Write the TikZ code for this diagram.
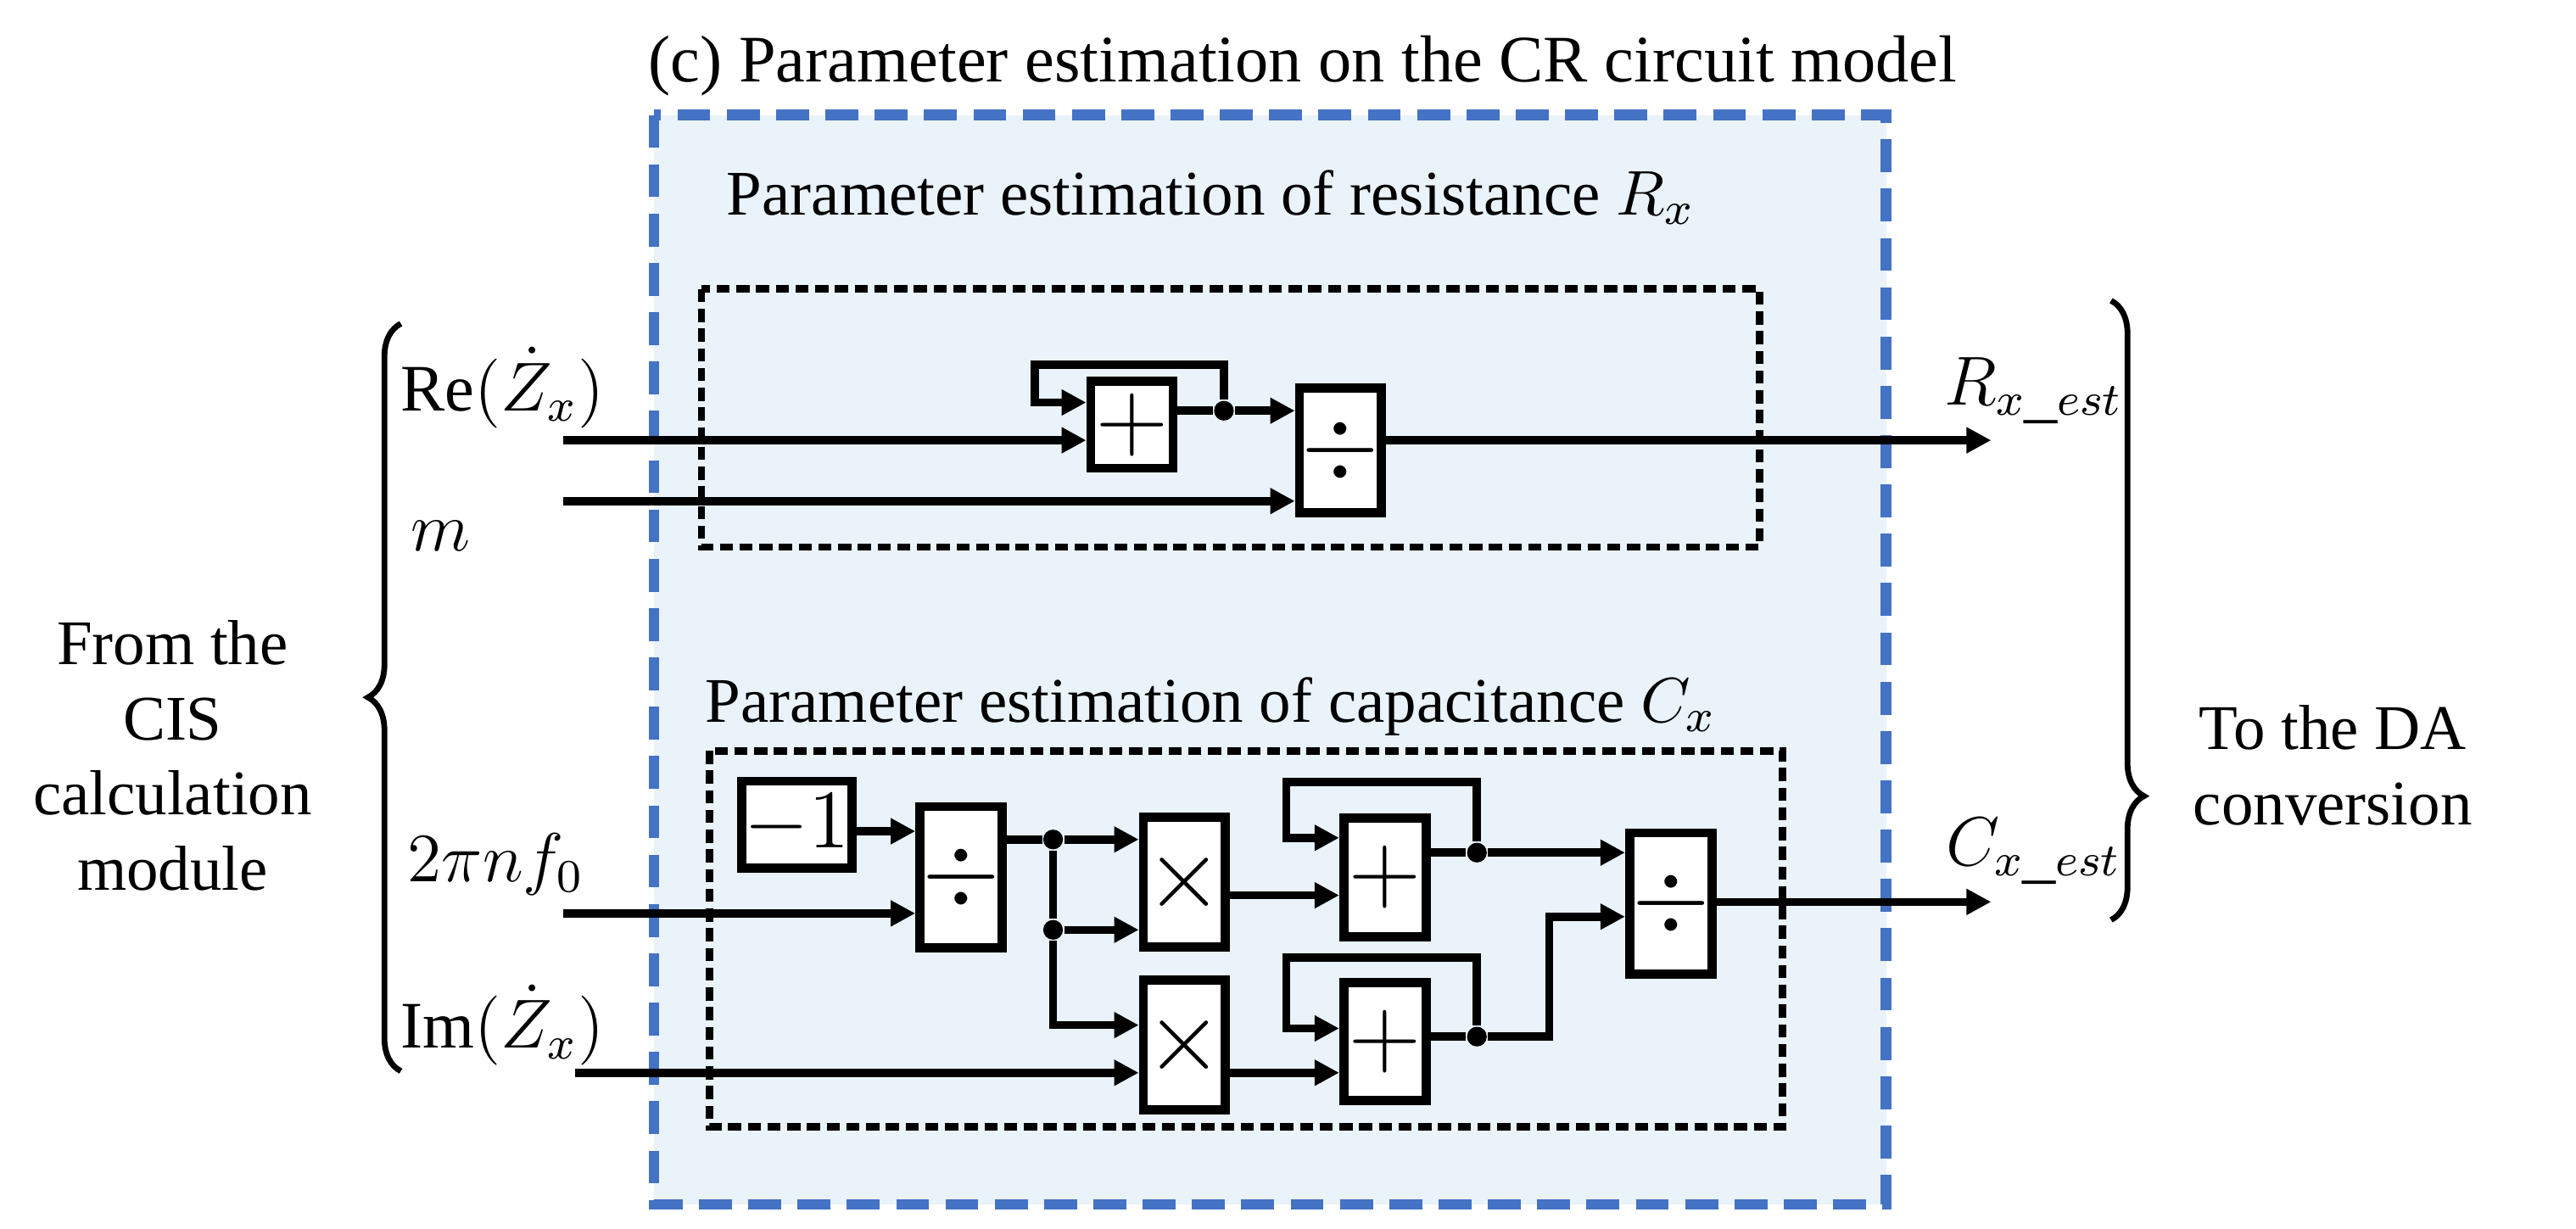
\documentclass[tikz,border=0pt]{standalone}
\usepackage{fontspec}
\setmainfont{Liberation Serif}
\usetikzlibrary{arrows.meta,decorations.pathreplacing}

\definecolor{dashblue}{RGB}{68,114,196}
\definecolor{paleblue}{RGB}{234,243,250}

\tikzset{
  blk/.style={draw, line width=1.6pt, fill=white, minimum width=0.5cm, inner sep=0pt},
  sig/.style={line width=1.4pt, -{Triangle[width=0.15cm,length=0.15cm]}},
  wire/.style={line width=1.4pt},
  dot/.style={circle, fill, inner sep=0pt, minimum size=0.12cm},
  txt/.style={font=\fontsize{11}{13}\selectfont, align=center},
  lbl/.style={font=\fontsize{11.5}{13}\selectfont, inner sep=1pt}
}

\begin{document}
\begin{tikzpicture}[x=0.01cm, y=-0.01cm]

\useasboundingbox (0,0) rectangle (1568,748);

% Title
\node[txt, font=\fontsize{11.5}{13}\selectfont] (title) at (793,40) {(c) Parameter estimation on the CR circuit model};

% Outer blue frame
\draw[dashblue, fill=paleblue, line width=1.8pt, dash pattern=on 0.2cm off 0.1cm] (398,70) rectangle (1148,733);

% Top block: resistance
\node[txt] (titleR) at (737,120) {Parameter estimation of resistance $R_x$};
\draw[line width=1.3pt, dash pattern=on 0.08cm off 0.04cm] (427,176) rectangle (1071,333);

\node[blk, minimum height=0.53cm] (addR) at (689,258.5) {\LARGE $+$};
\node[blk, minimum height=0.76cm] (divR) at (816,274) {\LARGE $\div$};
\node[dot] (dotR) at (745,250) {};

\coordinate (inRe) at (343,268);
\coordinate (inM) at (343,305);
\coordinate (outR) at (1212,268);

\draw[sig] (inRe) -- (inRe -| addR.west);
\draw[sig] (inM) -- (inM -| divR.west);
\draw[wire] (addR.east |- dotR) -- (dotR);
\draw[sig] (dotR) -- (divR.west |- dotR);
\draw[sig] (dotR) |- (630,222) |- (addR.west |- 0,245);
\draw[sig] (divR.east |- outR) -- (outR);

\node[lbl] (lRe) at (306,236) {Re$(\dot{Z}_x)$};
\node[lbl] (lM) at (268,326) {$m$};
\node[lbl] (lRout) at (1238,238) {$R_{x\_est}$};

% Bottom block: capacitance
\node[txt] (titleC) at (737,430) {Parameter estimation of capacitance $C_x$};
\draw[line width=1.3pt, dash pattern=on 0.08cm off 0.04cm] (432,457) rectangle (1085,686);

\node[blk, minimum width=0.67cm, minimum height=0.53cm] (neg) at (485,502) {\Large $-1$};
\node[blk, minimum height=0.86cm] (divA) at (585,534) {\LARGE $\div$};
\node[blk, minimum height=0.79cm] (mulA) at (721,537) {\LARGE $\times$};
\node[blk, minimum height=0.79cm] (mulB) at (721,636) {\LARGE $\times$};
\node[blk, minimum height=0.72cm] (addA) at (843,534) {\LARGE $+$};
\node[blk, minimum height=0.72cm] (addB) at (843,634) {\LARGE $+$};
\node[blk, minimum height=0.86cm] (divB) at (1017,550) {\LARGE $\div$};

\node[dot] (dotA) at (641,511) {};
\node[dot] (dotB) at (641,566) {};
\node[dot] (dotC) at (899,519) {};
\node[dot] (dotD) at (899,631) {};

\coordinate (inF) at (343,556);
\coordinate (inIm) at (350,653);
\coordinate (outC) at (1212,549);

\draw[sig] (neg.east |- 0,506) -- (divA.west |- 0,506);
\draw[sig] (inF) -- (inF -| divA.west);
\draw[wire] (divA.east |- dotA) -- (dotA);
\draw[sig] (dotA) -- (mulA.west |- dotA);
\draw[wire] (dotA) -- (dotB);
\draw[sig] (dotB) -- (mulA.west |- dotB);
\draw[sig] (dotB) |- (mulB.west |- 0,624);
\draw[sig] (inIm) -- (inIm -| mulB.west);

\draw[sig] (mulA.east |- 0,545) -- (addA.west |- 0,545);
\draw[sig] (mulB.east |- inIm) -- (addB.west |- inIm);

\draw[wire] (addA.east |- dotC) -- (dotC);
\draw[sig] (dotC) |- (783,476) |- (addA.west |- 0,510);
\draw[sig] (dotC) -- (divB.west |- dotC);

\draw[wire] (addB.east |- dotD) -- (dotD);
\draw[sig] (dotD) |- (783,583) |- (addB.west |- 0,626);
\draw[sig] (dotD) -- (943,631) |- (divB.west |- 0,558);

\draw[sig] (divB.east |- outC) -- (outC);

\node[lbl] (lF) at (302,526) {$2\pi n f_0$};
\node[lbl] (lIm) at (306,624) {Im$(\dot{Z}_x)$};
\node[lbl] (lCout) at (1238,518) {$C_{x\_est}$};

% Braces
\draw[line width=1pt, decorate, decoration={brace, amplitude=0.2cm, aspect=0.5}] (244,652) -- (244,197);
\node[txt] (lFrom) at (105,460) {From the\\CIS\\calculation\\module};
\draw[line width=1pt, decorate, decoration={brace, amplitude=0.2cm, aspect=0.8}] (1285,183) -- (1285,560);
\node[txt] (lTo) at (1420,466) {To the DA\\conversion};

\end{tikzpicture}
\end{document}
